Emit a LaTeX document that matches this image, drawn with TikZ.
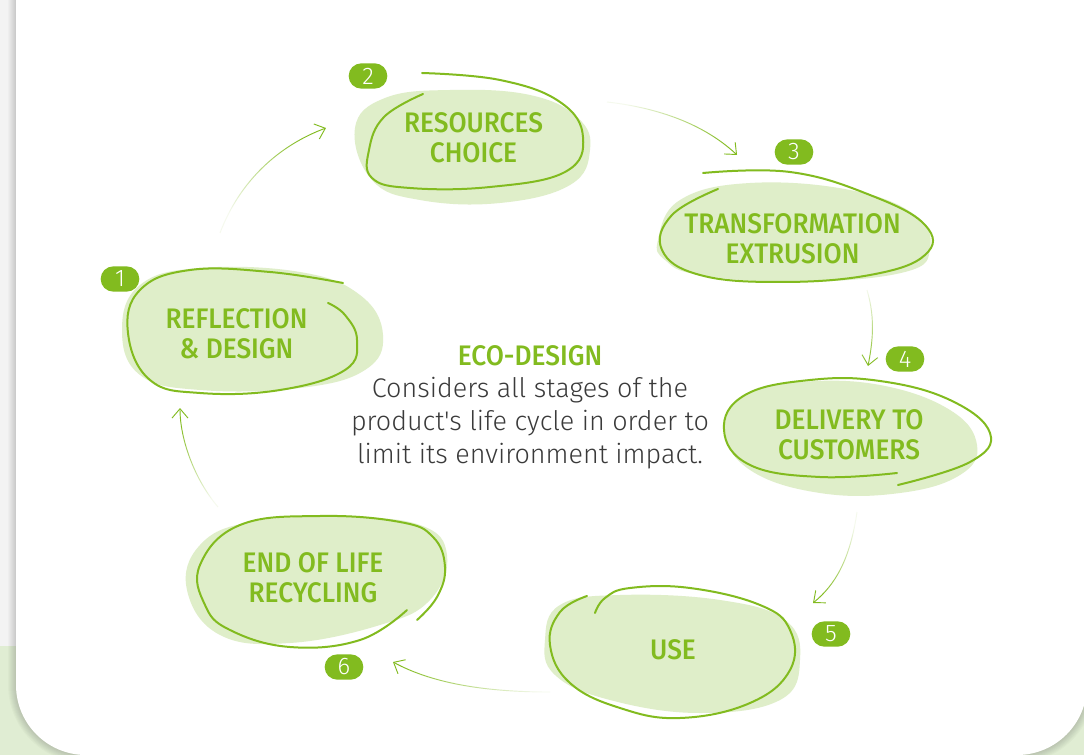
\documentclass[tikz,border=0pt]{standalone}
\usepackage{fontspec}
\setmainfont{Fira Sans}
\newfontfamily\labelfont{Fira Sans Medium}[FakeStretch=0.93]
\newfontfamily\bodyfont{Fira Sans Light}
\usetikzlibrary{arrows.meta,fadings}
\definecolor{greenc}{HTML}{82BB1F}
\definecolor{blobc}{HTML}{DFEEC9}
\definecolor{bgc}{HTML}{E0EDD3}
\definecolor{txtc}{HTML}{3A3A3A}
\definecolor{stripc}{HTML}{F3F3F3}
\tikzfading[name=arrowfade, left color=transparent!92, right color=transparent!0]
\tikzset{
  blobfill/.style={fill=blobc, draw=none},
  blobline/.style={draw=greenc, line width=1.5pt, line cap=round},
  lbl/.style={text=greenc, font=\labelfont\fontsize{21.2}{22.5}\selectfont, align=center, inner sep=0pt},
  bodytxt/.style={text=txtc, font=\bodyfont\fontsize{20.2}{24}\selectfont, inner sep=0pt, anchor=base},
  badge/.style={fill=greenc, rounded corners=9.5pt, minimum width=29pt, minimum height=19pt, inner sep=0pt, text=white, font=\bodyfont\fontsize{18}{18}\selectfont},
  flow/.style={draw=greenc, line width=0.7pt, -{Straight Barb[length=7pt,width=12pt]}, path fading=arrowfade},
}
\begin{document}
\begin{tikzpicture}[x=0.75pt,y=-0.75pt]
\useasboundingbox (0,0) rectangle (1084,755);
% background
\fill[stripc] (0,0) rectangle (1084,646);
\fill[bgc] (0,646) rectangle (1084,755);
\foreach \i in {1,...,8}{\pgfmathsetmacro\rr{52.5+0.75*\i}
  \fill[black,opacity=0.018,rounded corners=\rr pt] (16-\i,-100) rectangle (1087+\i,755+\i);}
\fill[white,rounded corners=52.5pt] (16,-100) rectangle (1087,755);

% blob 1
\fill[blobfill] plot[smooth cycle, tension=0.7] coordinates {(122,330) (140,285) (200,268) (300,272) (360,295) (383,335) (365,370) (300,388) (200,390) (140,375)};
\draw[blobline] plot[smooth, tension=0.7] coordinates {(343,283) (270,272) (190,270) (140,290) (128,333) (150,380) (200,393) (280,390) (345,370) (357,340) (345,315) (328,303)};
% blob 2
\fill[blobfill] plot[smooth cycle, tension=0.7] coordinates {(355,128) (385,98) (450,90) (530,95) (578,118) (590,150) (570,185) (500,203) (420,200) (372,180)};
\draw[blobline] plot[smooth, tension=0.7] coordinates {(422,73) (500,80) (560,102) (583,137) (565,172) (490,187) (410,188) (372,178) (369,150) (384,117) (423,94)};
% blob 3
\fill[blobfill] plot[smooth cycle, tension=0.7] coordinates {(658,240) (680,200) (750,183) (850,190) (915,215) (930,248) (905,272) (800,282) (700,275) (665,260)};
\draw[blobline] plot[smooth, tension=0.7] coordinates {(703,173) (790,172) (870,195) (925,225) (925,255) (870,275) (780,282) (700,275) (662,250) (672,215) (718,189)};
% blob 4
\fill[blobfill] plot[smooth cycle, tension=0.7] coordinates {(725,430) (745,395) (800,382) (880,385) (950,410) (977,445) (960,475) (900,493) (820,493) (750,470)};
\draw[blobline] plot[smooth, tension=0.7] coordinates {(897,473) (820,477) (750,465) (724,430) (745,395) (810,380) (880,381) (950,400) (990,433) (970,462) (898,485)};
% blob 5
\fill[blobfill] plot[smooth cycle, tension=0.7] coordinates {(545,640) (560,605) (620,595) (720,600) (785,620) (800,660) (780,700) (700,713) (610,700) (555,675)};
\draw[blobline] plot[smooth, tension=0.7] coordinates {(587,596) (560,612) (550,645) (570,683) (620,708) (680,718) (750,703) (790,670) (790,630) (760,605) (690,588) (630,588) (605,598) (595,613)};
% blob 6
\fill[blobfill] plot[smooth cycle, tension=0.7] coordinates {(187,590) (200,545) (250,522) (340,517) (420,525) (447,555) (430,600) (380,625) (290,643) (220,635)};
\draw[blobline] plot[smooth, tension=0.7] coordinates {(417,620) (437,597) (445,567) (433,537) (400,522) (320,516) (240,525) (200,565) (205,605) (230,630) (290,647) (360,640) (407,610)};

% labels
\node[lbl] (s1) at (236.5,333.5) {REFLECTION\\\& DESIGN};
\node[lbl] (s2) at (473.5,137.5) {RESOURCES\\CHOICE};
\node[lbl] (s3) at (792.5,239) {TRANSFORMATION\\EXTRUSION};
\node[lbl] (s4) at (849,435) {DELIVERY TO\\CUSTOMERS};
\node[lbl] (s5) at (673,650) {USE};
\node[lbl] (s6) at (313,577.5) {END OF LIFE\\RECYCLING};

% badges
\node[badge] (b1) at (120,279) {1};
\node[badge] (b2) at (368,76) {2};
\node[badge] (b3) at (794,152) {3};
\node[badge] (b4) at (905,359) {4};
\node[badge] (b5) at (831,634) {5};
\node[badge] (b6) at (344,667) {6};

% centre text
\node[lbl, anchor=base] (eco) at (530,365) {ECO-DESIGN};
\node[bodytxt] (l1) at (530,397) {Considers all stages of the};
\node[bodytxt] (l2) at (530,430) {product's life cycle in order to};
\node[bodytxt] (l3) at (530,463) {limit its environment impact.};

% arrows
\coordinate (a1s) at (220,233); \coordinate (a1e) at (326,128);
\coordinate (a2s) at (607,102); \coordinate (a2e) at (737,155);
\coordinate (a3s) at (867,290); \coordinate (a3e) at (868,366);
\coordinate (a4s) at (857,512); \coordinate (a4e) at (813,603);
\coordinate (a5s) at (550,692); \coordinate (a5e) at (393,662);
\coordinate (a6s) at (218,507); \coordinate (a6e) at (180,408);
\draw[flow, fading angle=45] (a1s) .. controls (240,180) and (280,145) .. (a1e);
\draw[flow, fading angle=-22] (a2s) .. controls (660,108) and (705,125) .. (a2e);
\draw[flow, fading angle=-90] (a3s) .. controls (876,320) and (872,345) .. (a3e);
\draw[flow, fading angle=-116] (a4s) .. controls (850,560) and (835,585) .. (a4e);
\draw[flow, fading angle=169] (a5s) .. controls (480,692) and (430,682) .. (a5e);
\draw[flow, fading angle=111] (a6s) .. controls (195,480) and (180,440) .. (a6e);
\end{tikzpicture}
\end{document}
